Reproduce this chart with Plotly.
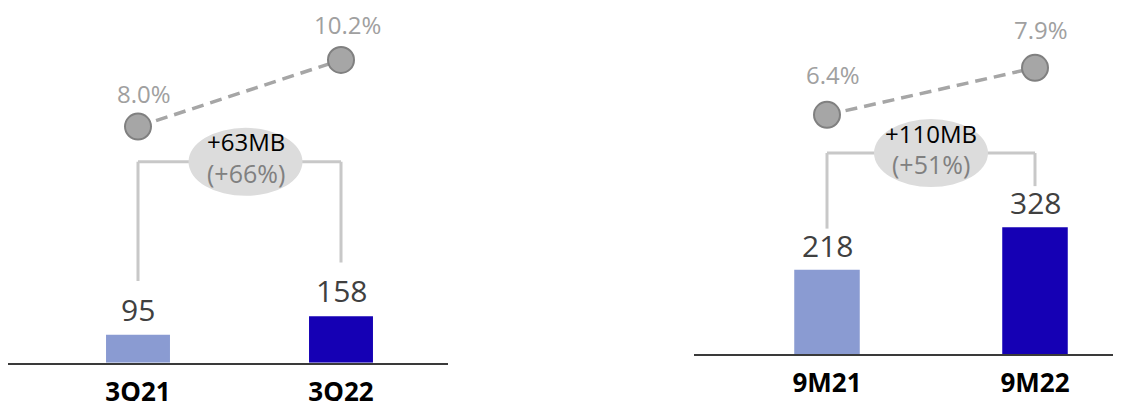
import plotly.graph_objects as go

# ---------------- data ----------------
periods_q = ["3Q21", "3Q22"]
profit_q = [95, 158]
margin_q = [8.0, 10.2]
margin_q_labels = ["8.0%", "10.2%"]
change_q = "+63MB"
change_pct_q = "(+66%)"

periods_9m = ["9M21", "9M22"]
profit_9m = [218, 328]
margin_9m = [6.4, 7.9]
margin_9m_labels = ["6.4%", "7.9%"]
change_9m = "+110MB"
change_pct_9m = "(+51%)"

bar_colors = ["#8a9bd2", "#1500b4"]

# ---------------- layout geometry ----------------
# the page body adds a left offset of 8px to the figure
OFFX, OFFY = 8, 0
W, H = 1121 - OFFX, 401 - OFFY
FONT = "Open Sans"

panels = [
    dict(periods=periods_q, values=profit_q, margins=margin_q, mlabels=margin_q_labels,
         change=change_q, pct=change_pct_q,
         xa="x", ya="y", ya2="y2", xkey="xaxis", ykey="yaxis", y2key="yaxis2",
         base_px=362, scale=0.30, xdom=(7, 448), centers=(138, 341),
         pct_px=(121, 53), bracket_gap=55, label_shift=3, ell_dx=6, pl_shift=(33, 35)),
    dict(periods=periods_9m, values=profit_9m, margins=margin_9m, mlabels=margin_9m_labels,
         change=change_9m, pct=change_pct_9m,
         xa="x2", ya="y3", ya2="y4", xkey="xaxis2", ykey="yaxis3", y2key="yaxis4",
         base_px=353, scale=0.394, xdom=(694, 1121), centers=(827, 1035),
         pct_px=(109, 61), bracket_gap=42, label_shift=2, ell_dx=0, pl_shift=(40, 38)),
]

fig = go.Figure()
shapes, annotations, layout = [], [], {}

for p in panels:
    vals, margins = p["values"], p["margins"]
    fig.add_trace(go.Bar(x=p["periods"], y=vals, marker=dict(color=bar_colors, line=dict(width=0)),
                         width=0.315, xaxis=p["xa"], yaxis=p["ya"], hoverinfo="skip"))
    fig.add_trace(go.Scatter(x=p["periods"], y=margins, mode="lines+markers",
                             line=dict(color="#a6a6a6", width=3.5, dash="12px,7px"),
                             marker=dict(size=26, color="#a6a6a6", line=dict(color="#808080", width=2)),
                             xaxis=p["xa"], yaxis=p["ya2"], hoverinfo="skip"))

    x0px = max(p["xdom"][0] - OFFX, 0)
    x1px = p["xdom"][1] - OFFX
    c0, c1 = p["centers"][0] - OFFX, p["centers"][1] - OFFX
    spacing = c1 - c0
    r0 = -(c0 - x0px) / spacing
    r1 = r0 + (x1px - x0px) / spacing
    base = p["base_px"] - OFFY
    sc = p["scale"]
    layout[p["xkey"]] = dict(domain=[x0px / W, x1px / W], type="category", range=[r0, r1],
                             showline=True, linecolor="#3a3a3a", linewidth=1.5,
                             ticks="outside", ticklen=5, tickcolor="rgba(0,0,0,0)",
                             tickfont=dict(family=FONT, size=26, color="#000000", weight="bold"),
                             showgrid=False, zeroline=False, fixedrange=True,
                             anchor=p["ya"])
    layout[p["ykey"]] = dict(domain=[(H - base) / H, 1], range=[0, base / sc], visible=False,
                             anchor=p["xa"], fixedrange=True)
    (pa, pb) = (p["pct_px"][0] - OFFY, p["pct_px"][1] - OFFY)
    pxper = (pa - pb) / (margins[1] - margins[0])
    ylow = margins[0] - (base - pa) / pxper
    yhigh = ylow + base / pxper
    layout[p["y2key"]] = dict(overlaying=p["ya"], range=[ylow, yhigh], visible=False,
                              anchor=p["xa"], fixedrange=True)

    for i, v in enumerate(vals):
        annotations.append(dict(x=i, y=v, xref=p["xa"], yref=p["ya"], text=str(v),
                                showarrow=False, yanchor="bottom", yshift=p["label_shift"],
                                font=dict(family=FONT, size=30, color="#404040")))
    for i, (m, lab) in enumerate(zip(margins, p["mlabels"])):
        annotations.append(dict(x=i, y=m, xref=p["xa"], yref=p["ya2"], text=lab,
                                showarrow=False, yanchor="middle", yshift=p["pl_shift"][i], xshift=6,
                                font=dict(family=FONT, size=24, color="#a0a0a0")))

    top = 205 / sc
    b0 = vals[0] + p["bracket_gap"] / sc
    b1 = vals[1] + p["bracket_gap"] / sc
    bl = dict(color="#c8c8c8", width=3)
    shapes.append(dict(type="line", xref=p["xa"], yref=p["ya"], x0=0, x1=0, y0=b0, y1=top, line=bl))
    shapes.append(dict(type="line", xref=p["xa"], yref=p["ya"], x0=1, x1=1, y0=b1, y1=top, line=bl))
    shapes.append(dict(type="line", xref=p["xa"], yref=p["ya"], x0=0, x1=1, y0=top, y1=top, line=bl))
    shapes.append(dict(type="circle", xref=p["xa"], yref=p["ya"], xsizemode="pixel", ysizemode="pixel",
                       xanchor=0.5, yanchor=top, x0=-57 + p["ell_dx"], x1=57 + p["ell_dx"],
                       y0=-34, y1=34, fillcolor="#dcdcdc", line=dict(width=0), layer="above"))
    annotations.append(dict(x=0.5, y=top, xref=p["xa"], yref=p["ya"], text=p["change"],
                            showarrow=False, yanchor="middle", yshift=20, xshift=p["ell_dx"],
                            font=dict(family=FONT, size=24, color="#000000")))
    annotations.append(dict(x=0.5, y=top, xref=p["xa"], yref=p["ya"], text=p["pct"],
                            showarrow=False, yanchor="middle", yshift=-11, xshift=p["ell_dx"],
                            font=dict(family=FONT, size=25, color="#808080")))

fig.update_layout(width=W, height=H, autosize=False, margin=dict(l=0, r=0, t=0, b=0),
                  paper_bgcolor="white", plot_bgcolor="white", showlegend=False,
                  shapes=shapes, annotations=annotations, **layout)

fig.write_html("out.html")
